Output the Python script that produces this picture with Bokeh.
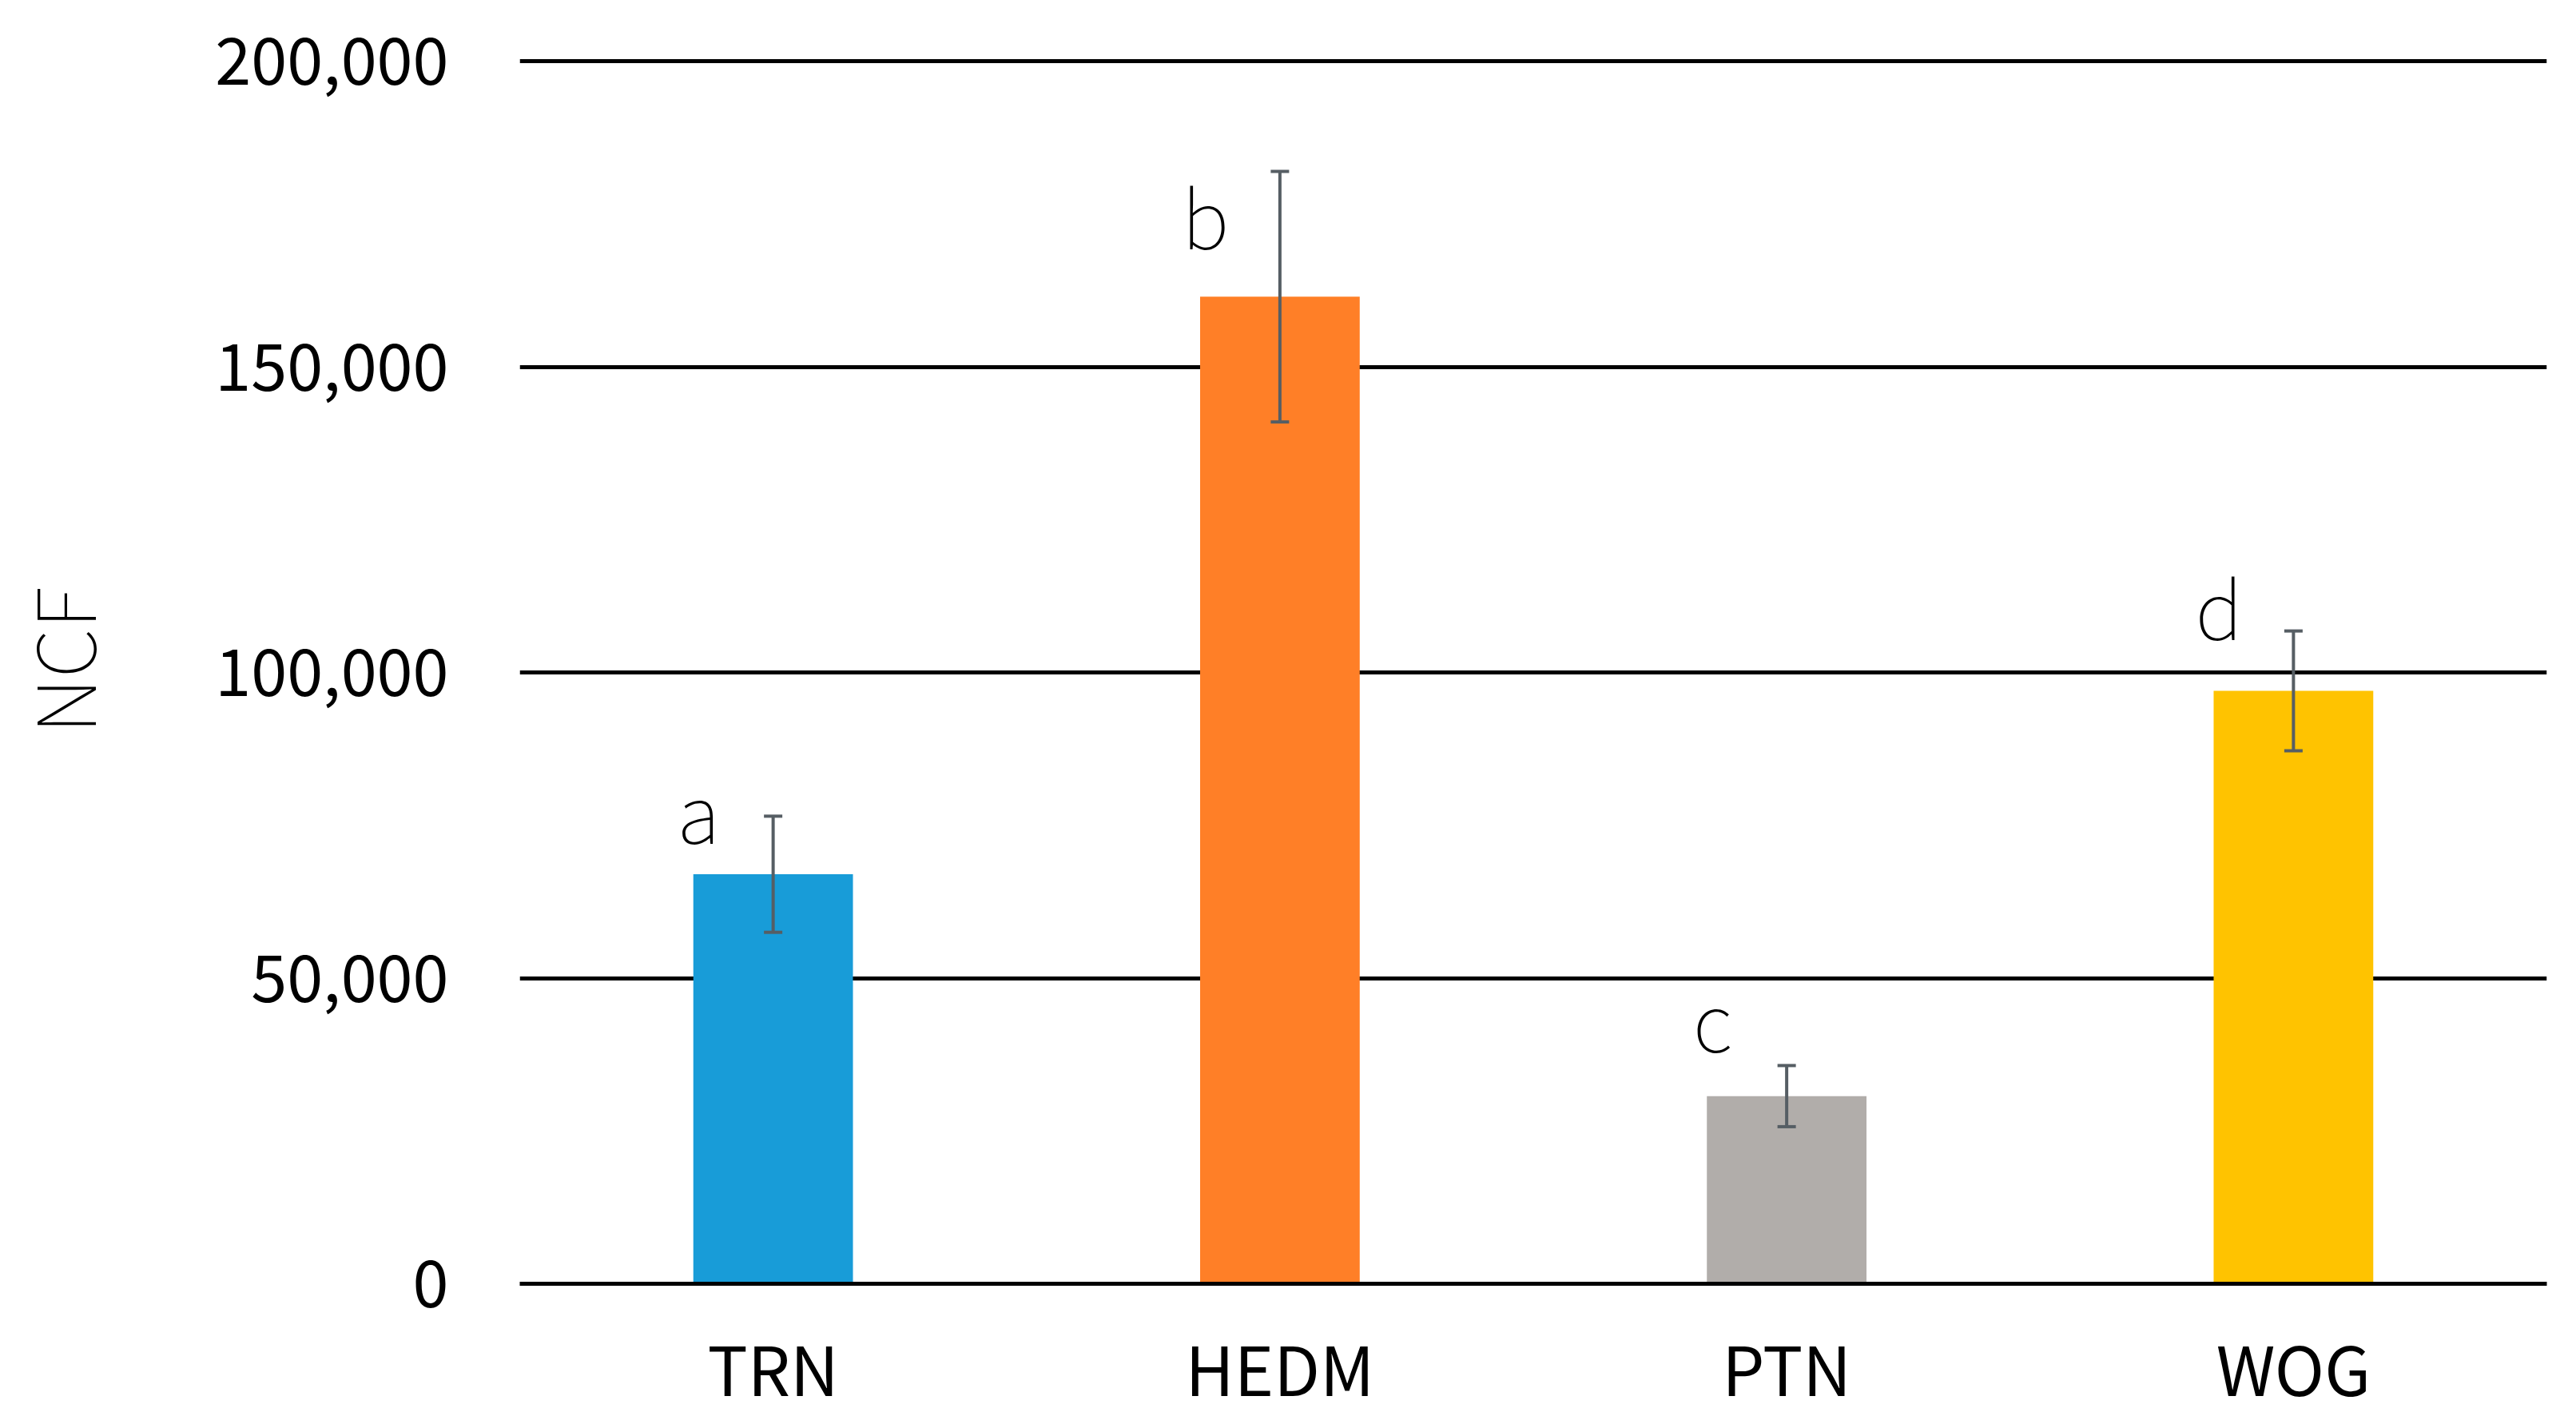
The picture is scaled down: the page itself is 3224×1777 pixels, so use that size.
from bokeh.plotting import figure
from bokeh.models import (ColumnDataSource, FixedTicker, NumeralTickFormatter,
                          Whisker, TeeHead)
from bokeh.transform import dodge
from bokeh.core.properties import value
from bokeh.embed import file_html
from bokeh.resources import INLINE

# ---- data ----
categories = ["TRN", "HEDM", "PTN", "WOG"]
ncf_mean = [67000, 161500, 30700, 97000]
ncf_err = [9500, 20500, 5000, 9800]
group_letters = ["a", "b", "c", "d"]
letter_y = [77700, 174900, 43600, 111000]
bar_colors = ["#189CD8", "#FF7F27", "#B1ADAA", "#FFC300"]
y_ticks = [0, 50000, 100000, 150000, 200000]

FONT = "Noto Sans CJK JP"
ERR_COLOR = "#565E64"

src = ColumnDataSource(dict(
    cat=categories,
    val=ncf_mean,
    upper=[m + e for m, e in zip(ncf_mean, ncf_err)],
    lower=[m - e for m, e in zip(ncf_mean, ncf_err)],
    color=bar_colors,
    letter=group_letters,
    ly=letter_y,
))

p = figure(x_range=categories, y_range=(0, 205000),
           width=3224, height=1777,
           output_backend="svg", toolbar_location=None,
           min_border_left=650, min_border_right=37,
           min_border_top=38, min_border_bottom=171)
p.title = None
p.outline_line_color = None
p.background_fill_color = "white"
p.border_fill_color = "white"

p.vbar(x="cat", top="val", width=0.315, color="color", line_color=None, source=src)

whisk = Whisker(base="cat", upper="upper", lower="lower", source=src,
                level="annotation",
                line_color=ERR_COLOR, line_width=4,
                upper_head=TeeHead(size=23, line_color=ERR_COLOR, line_width=4),
                lower_head=TeeHead(size=23, line_color=ERR_COLOR, line_width=4))
p.add_layout(whisk)

p.text(x=dodge("cat", -0.145, range=p.x_range), y="ly", text="letter", source=src,
       text_font=value(FONT), text_font_size="100px", text_color="black",
       text_align="center", text_baseline="middle")

# grid
p.xgrid.grid_line_color = None
p.ygrid.ticker = FixedTicker(ticks=y_ticks)
p.ygrid.grid_line_color = "black"
p.ygrid.grid_line_width = 5

# y axis
p.yaxis.ticker = FixedTicker(ticks=y_ticks)
p.yaxis.formatter = NumeralTickFormatter(format="0,0")
p.yaxis.axis_line_color = None
p.yaxis.major_tick_line_color = None
p.yaxis.minor_tick_line_color = None
p.yaxis.major_tick_out = 0
p.yaxis.major_label_standoff = 89
p.yaxis.major_label_text_font = FONT
p.yaxis.major_label_text_font_size = "81px"
p.yaxis.major_label_text_color = "black"
p.yaxis.axis_label = "NCF"
p.yaxis.axis_label_text_font = FONT
p.yaxis.axis_label_text_font_size = "100px"
p.yaxis.axis_label_text_font_style = "normal"
p.yaxis.axis_label_text_color = "black"
p.yaxis.axis_label_standoff = 117

# x axis
p.xaxis.axis_line_color = "black"
p.xaxis.axis_line_width = 5
p.xaxis.major_tick_line_color = None
p.xaxis.minor_tick_line_color = None
p.xaxis.major_tick_out = 0
p.xaxis.major_label_standoff = 43
p.xaxis.major_label_text_font = FONT
p.xaxis.major_label_text_font_size = "84px"
p.xaxis.major_label_text_color = "black"

open("out.html", "w").write(file_html(p, INLINE))
